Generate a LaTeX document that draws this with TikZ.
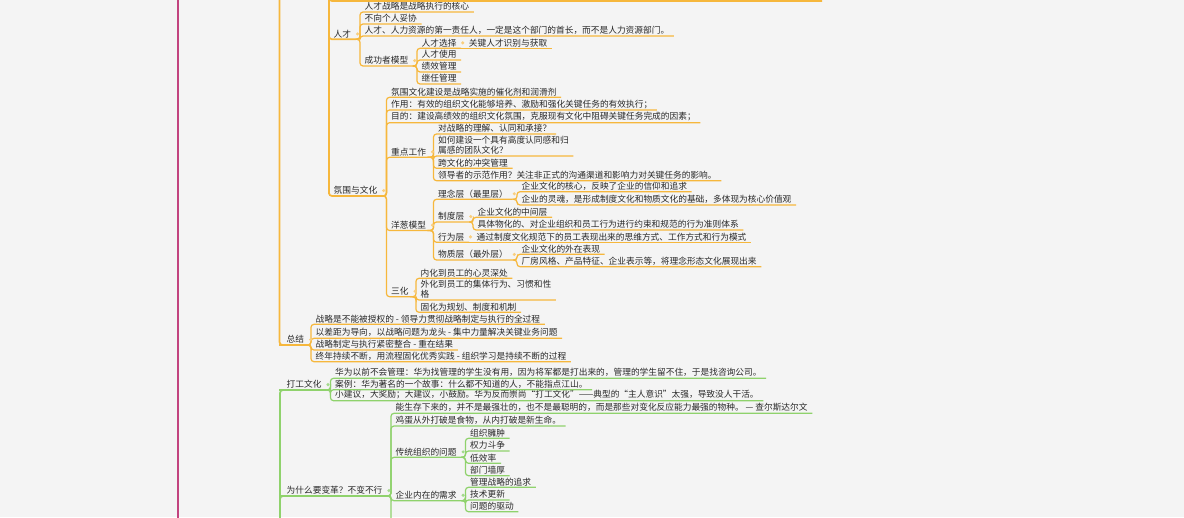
\documentclass[tikz,border=0pt]{standalone}
\usepackage{fontspec}
\usepackage{xcolor}
\usepackage{tikz}
\usetikzlibrary{positioning}
\newfontfamily\cjk{Noto Sans CJK SC}
\definecolor{paper}{HTML}{F4F4F4}
\definecolor{orangeline}{HTML}{F6B73C}
\definecolor{orangedot}{HTML}{F9CE7E}
\definecolor{greenline}{HTML}{8FD26C}
\definecolor{greendot}{HTML}{A3DA8C}
\definecolor{rootline}{HTML}{C2437F}
\definecolor{topictext}{HTML}{282828}

\begin{document}
\begin{tikzpicture}[x=1pt, y=-1pt,
  topic/.style={anchor=south west, inner xsep=4.5pt, inner ysep=1.2pt,
                text=topictext, align=left,
                font=\cjk\fontsize{8.7}{10.7}\selectfont},
  obranch/.style={draw=orangeline, line width=1.2pt, rounded corners=3pt},
  omain/.style={obranch, line width=1.7pt},
  gbranch/.style={draw=greenline, line width=1.2pt, rounded corners=3pt},
  gmain/.style={gbranch, line width=1.7pt},
  odot/.style={fill=orangedot},
  gdot/.style={fill=greendot}
]
  \useasboundingbox (0,0) rectangle (1184,517);
  \fill[paper] (0,0) rectangle (1184,517);
  \clip (0,0) rectangle (1184,517);

  % ends that run out of the frame
  \coordinate (roottop) at (178,-10);
  \coordinate (rootbottom) at (178,530);
  \coordinate (oupper) at (279.5,-40);
  \coordinate (upper) at (329,-40);
  \coordinate (topcut) at (822,1);
  \coordinate (glower) at (280,560);
  \coordinate (changemore) at (391,560);

  % talent
  \node[topic] (talent) at (329,39.3) {人才};
  \node[topic] (talentcore) at (360,12) {人才战略是战略执行的核心};
  \node[topic] (nocompromise) at (360,24) {不向个人妥协};
  \node[topic] (hrowner) at (360,36) {人才、人力资源的第一责任人，一定是这个部门的首长，而不是人力资源部门。};
  \node[topic] (successmodel) at (360,66) {成功者模型};
  \node[topic] (selection) at (417,48.3) {人才选择};
  \node[topic] (keytalent) at ([xshift=3pt]selection.south east) {关键人才识别与获取};
  \node[topic] (usage) at (417,60) {人才使用};
  \node[topic] (performance) at (417,72) {绩效管理};
  \node[topic] (succession) at (417,84) {继任管理};

  % culture
  \node[topic] (culture) at (329,196) {氛围与文化};
  \node[topic] (catalyst) at (386.5,97.3) {氛围文化建设是战略实施的催化剂和润滑剂};
  \node[topic] (role) at (386.5,110) {作用：有效的组织文化能够培养、激励和强化关键任务的有效执行；};
  \node[topic] (purpose) at (386.5,122.7) {目的：建设高绩效的组织文化氛围，克服现有文化中阻碍关键任务完成的因素；};
  \node[topic] (focus) at (386.5,157.3) {重点工作};
  \node[topic] (understand) at (433.5,134) {对战略的理解、认同和承接？};
  \node[topic] (identity) at (433.5,156) {如何建设一个具有高度认同感和归\\属感的团队文化？};
  \node[topic] (crosscult) at (433.5,168.3) {跨文化的冲突管理};
  \node[topic] (leaders) at (433.5,180.7) {领导者的示范作用？关注非正式的沟通渠道和影响力对关键任务的影响。};
  \node[topic] (onion) at (386.5,230.5) {洋葱模型};
  \node[topic] (concept) at (433.5,199.3) {理念层（最里层）};
  \node[topic] (conceptcore) at (517,191.7) {企业文化的核心，反映了企业的信仰和追求};
  \node[topic] (conceptsoul) at (517,205) {企业的灵魂，是形成制度文化和物质文化的基础，多体现为核心价值观};
  \node[topic] (system) at (433.5,222) {制度层};
  \node[topic] (systemmid) at (473,217.3) {企业文化的中间层};
  \node[topic] (systemrules) at (473,230) {具体物化的、对企业组织和员工行为进行约束和规范的行为准则体系};
  \node[topic] (behavior) at (433.5,242.3) {行为层};
  \node[topic] (behaviormode) at ([xshift=3pt]behavior.south east) {通过制度文化规范下的员工表现出来的思维方式、工作方式和行为模式};
  \node[topic] (material) at (433.5,260) {物质层（最外层）};
  \node[topic] (materialout) at (517,254.3) {企业文化的外在表现};
  \node[topic] (materialstyle) at (517,266.7) {厂房风格、产品特征、企业表示等，将理念形态文化展现出来};
  \node[topic] (threefold) at (386.5,296.7) {三化};
  \node[topic] (internal) at (416,278.3) {内化到员工的心灵深处};
  \node[topic] (external) at (416,300) {外化到员工的集体行为、习惯和性\\格};
  \node[topic] (solidify) at (416,312.3) {固化为规划、制度和机制};

  % summary
  \node[topic] (summary) at (282,345) {总结};
  \node[topic] (sumlead) at (311,324.3) {战略是不能被授权的 - 领导力贯彻战略制定与执行的全过程};
  \node[topic] (sumgap) at (311,338.3) {以差距为导向，以战略问题为龙头 - 集中力量解决关键业务问题};
  \node[topic] (sumresult) at (311,350) {战略制定与执行紧密整合 - 重在结果};
  \node[topic] (sumlearn) at (311,361.7) {终年持续不断，用流程固化优秀实践 - 组织学习是持续不断的过程};

  % work culture
  \node[topic] (workcult) at (282,390) {打工文化};
  \node[topic] (huawei) at (330.5,378.3) {华为以前不会管理：华为找管理的学生没有用，因为将军都是打出来的，管理的学生留不住，于是找咨询公司。};
  \node[topic] (story) at (330.5,389.7) {案例：华为著名的一个故事：什么都不知道的人，不能指点江山。};
  \node[topic] (advice) at (330.5,400.7) {小建议，大奖励；大建议，小鼓励。华为反而崇尚“打工文化”——典型的“主人意识”太强，导致没人干活。};

  % why change
  \node[topic] (whychange) at (282,496) {为什么要变革？不变不行};
  \node[topic] (darwin) at (391,413.3) {能生存下来的，并不是最强壮的，也不是最聪明的，而是那些对变化反应能力最强的物种。 — 查尔斯达尔文};
  \node[topic] (egg) at (391,426) {鸡蛋从外打破是食物，从内打破是新生命。};
  \node[topic] (tradition) at (391,457.3) {传统组织的问题};
  \node[topic] (bloated) at (465.5,438.3) {组织臃肿};
  \node[topic] (power) at (465.5,451) {权力斗争};
  \node[topic] (lowrate) at (465.5,463.3) {低效率};
  \node[topic] (walls) at (465.5,475.7) {部门墙厚};
  \node[topic] (innerneed) at (391,500.7) {企业内在的需求};
  \node[topic] (pursuit) at (465.5,487.3) {管理战略的追求};
  \node[topic] (technew) at (465.5,500) {技术更新};
  \node[topic] (problems) at (465.5,511.7) {问题的驱动};

  \draw[rootline, line width=2.2pt] (roottop) -- (rootbottom);

  % orange branches
  \draw[omain] (oupper) |- (summary.south west) -- (summary.south east);
  \draw[omain] (upper) |- (topcut);
  \draw[omain] (upper) |- (talent.south west) -- (talent.south east);
  \draw[omain] (upper) |- (culture.south west) -- (culture.south east);

  \draw[obranch] (talent.south east) -| (talentcore.south west) -- (talentcore.south east);
  \draw[obranch] (talent.south east) -| (nocompromise.south west) -- (nocompromise.south east);
  \draw[obranch] (talent.south east) -| (hrowner.south west) -- (hrowner.south east);
  \draw[obranch] (talent.south east) -| (successmodel.south west) -- (successmodel.south east);
  \draw[obranch] (successmodel.south east) -| (selection.south west) -- (selection.south east);
  \draw[obranch] (selection.south east) -- (keytalent.south west) -- (keytalent.south east);
  \draw[obranch] (successmodel.south east) -| (usage.south west) -- (usage.south east);
  \draw[obranch] (successmodel.south east) -| (performance.south west) -- (performance.south east);
  \draw[obranch] (successmodel.south east) -| (succession.south west) -- (succession.south east);

  \draw[obranch] (culture.south east) -| (catalyst.south west) -- (catalyst.south east);
  \draw[obranch] (culture.south east) -| (role.south west) -- (role.south east);
  \draw[obranch] (culture.south east) -| (purpose.south west) -- (purpose.south east);
  \draw[obranch] (culture.south east) -| (focus.south west) -- (focus.south east);
  \draw[obranch] (culture.south east) -| (onion.south west) -- (onion.south east);
  \draw[obranch] (culture.south east) -| (threefold.south west) -- (threefold.south east);

  \draw[obranch] (focus.south east) -| (understand.south west) -- (understand.south east);
  \draw[obranch] (focus.south east) -| (identity.south west) -- (identity.south east);
  \draw[obranch] (focus.south east) -| (crosscult.south west) -- (crosscult.south east);
  \draw[obranch] (focus.south east) -| (leaders.south west) -- (leaders.south east);

  \draw[obranch] (onion.south east) -| (concept.south west) -- (concept.south east);
  \draw[obranch] (onion.south east) -| (system.south west) -- (system.south east);
  \draw[obranch] (onion.south east) -| (behavior.south west) -- (behavior.south east);
  \draw[obranch] (onion.south east) -| (material.south west) -- (material.south east);
  \draw[obranch] (concept.south east) -| (conceptcore.south west) -- (conceptcore.south east);
  \draw[obranch] (concept.south east) -| (conceptsoul.south west) -- (conceptsoul.south east);
  \draw[obranch] (system.south east) -| (systemmid.south west) -- (systemmid.south east);
  \draw[obranch] (system.south east) -| (systemrules.south west) -- (systemrules.south east);
  \draw[obranch] (behavior.south east) -- (behaviormode.south west) -- (behaviormode.south east);
  \draw[obranch] (material.south east) -| (materialout.south west) -- (materialout.south east);
  \draw[obranch] (material.south east) -| (materialstyle.south west) -- (materialstyle.south east);

  \draw[obranch] (threefold.south east) -| (internal.south west) -- (internal.south east);
  \draw[obranch] (threefold.south east) -| (external.south west) -- (external.south east);
  \draw[obranch] (threefold.south east) -| (solidify.south west) -- (solidify.south east);

  \draw[obranch] (summary.south east) -| (sumlead.south west) -- (sumlead.south east);
  \draw[obranch] (summary.south east) -| (sumgap.south west) -- (sumgap.south east);
  \draw[obranch] (summary.south east) -| (sumresult.south west) -- (sumresult.south east);
  \draw[obranch] (summary.south east) -| (sumlearn.south west) -- (sumlearn.south east);

  % green branches
  \draw[gmain] (glower) |- (workcult.south west) -- (workcult.south east);
  \draw[gmain] (glower) |- (whychange.south west) -- (whychange.south east);

  \draw[gbranch] (workcult.south east) -| (huawei.south west) -- (huawei.south east);
  \draw[gbranch] (workcult.south east) -| (story.south west) -- (story.south east);
  \draw[gbranch] (workcult.south east) -| (advice.south west) -- (advice.south east);

  \draw[gbranch] (whychange.south east) -| (darwin.south west) -- (darwin.south east);
  \draw[gbranch] (whychange.south east) -| (egg.south west) -- (egg.south east);
  \draw[gbranch] (whychange.south east) -| (tradition.south west) -- (tradition.south east);
  \draw[gbranch] (whychange.south east) -| (innerneed.south west) -- (innerneed.south east);
  \draw[gbranch] (whychange.south east) -| (changemore);

  \draw[gbranch] (tradition.south east) -| (bloated.south west) -- (bloated.south east);
  \draw[gbranch] (tradition.south east) -| (power.south west) -- (power.south east);
  \draw[gbranch] (tradition.south east) -| (lowrate.south west) -- (lowrate.south east);
  \draw[gbranch] (tradition.south east) -| (walls.south west) -- (walls.south east);
  \draw[gbranch] (innerneed.south east) -| (pursuit.south west) -- (pursuit.south east);
  \draw[gbranch] (innerneed.south east) -| (technew.south west) -- (technew.south east);
  \draw[gbranch] (innerneed.south east) -| (problems.south west) -- (problems.south east);

  % dots behind parent topics
  \fill[odot] ([xshift=1.8pt]talent.east) circle (1.7pt);
  \fill[odot] ([xshift=1.8pt]successmodel.east) circle (1.7pt);
  \fill[odot] ([xshift=1.5pt]selection.east) circle (1.7pt);
  \fill[odot] ([xshift=1.8pt]culture.east) circle (1.7pt);
  \fill[odot] ([xshift=1.8pt]focus.east) circle (1.7pt);
  \fill[odot] ([xshift=1.8pt]onion.east) circle (1.7pt);
  \fill[odot] ([xshift=1.8pt]concept.east) circle (1.7pt);
  \fill[odot] ([xshift=1.8pt]system.east) circle (1.7pt);
  \fill[odot] ([xshift=1.5pt]behavior.east) circle (1.7pt);
  \fill[odot] ([xshift=1.8pt]material.east) circle (1.7pt);
  \fill[odot] ([xshift=1.8pt]threefold.east) circle (1.7pt);
  \fill[odot] ([xshift=1.8pt]summary.east) circle (1.7pt);
  \fill[gdot] ([xshift=1.8pt]workcult.east) circle (1.7pt);
  \fill[gdot] ([xshift=1.8pt]whychange.east) circle (1.7pt);
  \fill[gdot] ([xshift=1.8pt]tradition.east) circle (1.7pt);
  \fill[gdot] ([xshift=1.8pt]innerneed.east) circle (1.7pt);
\end{tikzpicture}
\end{document}
